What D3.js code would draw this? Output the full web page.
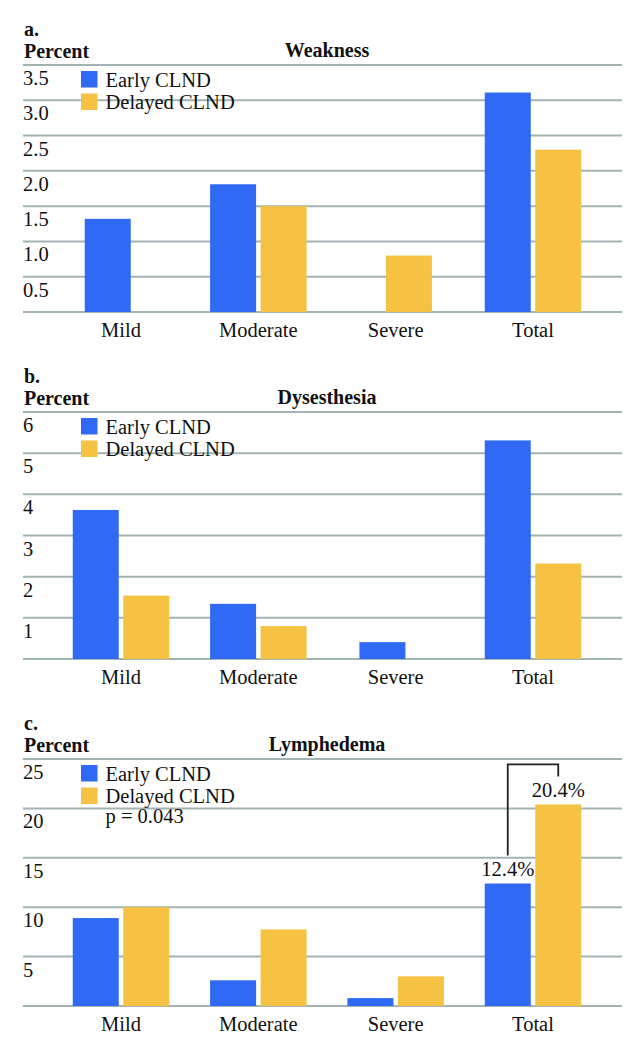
<!DOCTYPE html>
<html>
<head>
<meta charset="utf-8">
<script src="https://cdn.jsdelivr.net/npm/d3@7"></script>
<style>
  html, body { margin: 0; padding: 0; background: #fff; }
  svg { display: block; font-family: "Liberation Serif", "Times New Roman", serif; }
</style>
</head>
<body>
<svg id="chart" width="638" height="1050"></svg>
<script>
// ---- data ----
const categories = ["Mild", "Moderate", "Severe", "Total"];
const seriesNames = ["Early CLND", "Delayed CLND"];

const panelLetters = ["a.", "b.", "c."];
const panelTitles = ["Weakness", "Dysesthesia", "Lymphedema"];

// Weakness (percent), null = no bar
const weaknessEarly   = [1.32, 1.81, null, 3.11];
const weaknessDelayed = [null, 1.50, 0.80, 2.30];
const weaknessTicks   = [0.5, 1.0, 1.5, 2.0, 2.5, 3.0, 3.5];

// Dysesthesia (percent)
const dysEarly   = [3.62, 1.34, 0.41, 5.31];
const dysDelayed = [1.54, 0.80, null, 2.32];
const dysTicks   = [1, 2, 3, 4, 5, 6];

// Lymphedema (percent)
const lymEarly   = [8.9, 2.6, 0.8, 12.4];
const lymDelayed = [10.0, 7.75, 3.0, 20.4];
const lymTicks   = [5, 10, 15, 20, 25];
const lymPValue  = "p = 0.043";

const yMaxes = [3.5, 6, 25];
const tickFormats = [".1f", "d", "d"];

// ---- style ----
const colors = ["#3069f4", "#f5c243"];
const gridColor = "#a2b3b3";
const fontSize = 20.5;

const panels = [
  { early: weaknessEarly, delayed: weaknessDelayed, ticks: weaknessTicks },
  { early: dysEarly, delayed: dysDelayed, ticks: dysTicks },
  { early: lymEarly, delayed: lymDelayed, ticks: lymTicks, pval: lymPValue, annotateTotal: true }
];

const svg = d3.select("#chart");
const plotLeft = 23, plotRight = 622;
const panelTop0 = 65, panelStep = 347, panelHeight = 247;
const barW = 46, barGap = 4.5, loneShift = 12;

const x = d3.scalePoint().domain(categories).range([121, 533]);

panels.forEach((p, i) => {
  const top = panelTop0 + i * panelStep;
  const bottom = top + panelHeight;
  const g = svg.append("g");
  const y = d3.scaleLinear().domain([0, yMaxes[i]]).range([bottom, top]);

  // gridlines (including baseline)
  const gridVals = [0].concat(p.ticks);
  g.selectAll("line.grid").data(gridVals).join("line")
    .attr("class", "grid")
    .attr("x1", plotLeft).attr("x2", plotRight)
    .attr("y1", d => y(d)).attr("y2", d => y(d))
    .attr("stroke", gridColor).attr("stroke-width", 2);

  // tick labels (below each gridline)
  const fmt = d3.format(tickFormats[i]);
  g.selectAll("text.tick").data(p.ticks).join("text")
    .attr("class", "tick")
    .attr("x", plotLeft).attr("y", d => y(d) + 20)
    .attr("font-size", fontSize).attr("fill", "#111")
    .text(d => fmt(d));

  // panel letter, axis label, title
  g.append("text").attr("x", plotLeft + 1).attr("y", top - 29)
    .attr("font-size", 20).attr("font-weight", "bold").attr("fill", "#111")
    .text(panelLetters[i]);
  g.append("text").attr("x", plotLeft + 1).attr("y", top - 7)
    .attr("font-size", 20).attr("font-weight", "bold").attr("fill", "#111")
    .text("Percent");
  g.append("text").attr("x", 327).attr("y", top - 8.5)
    .attr("text-anchor", "middle")
    .attr("font-size", 20).attr("font-weight", "bold").attr("fill", "#111")
    .text(panelTitles[i]);

  // bars
  const bars = [];
  categories.forEach((c, ci) => {
    const vals = [p.early[ci], p.delayed[ci]];
    vals.forEach((v, si) => {
      if (v == null) return;
      const otherMissing = vals[1 - si] == null;
      let x0 = si === 0 ? x(c) - barGap / 2 - barW : x(c) + barGap / 2;
      if (otherMissing) x0 += si === 0 ? loneShift : -loneShift;
      bars.push({ c, si, v, x0 });
    });
  });
  g.selectAll("rect.bar").data(bars).join("rect")
    .attr("class", "bar")
    .attr("x", d => d.x0).attr("width", barW)
    .attr("y", d => y(d.v)).attr("height", d => y(0) - y(d.v))
    .attr("fill", d => colors[d.si]);

  // category labels
  g.selectAll("text.cat").data(categories).join("text")
    .attr("class", "cat")
    .attr("x", d => x(d)).attr("y", bottom + 25)
    .attr("text-anchor", "middle")
    .attr("font-size", fontSize).attr("fill", "#111")
    .text(d => d);

  // legend
  const leg = g.append("g");
  seriesNames.forEach((s, si) => {
    const ly = top + 6 + si * 22.5;
    leg.append("rect").attr("x", 81).attr("y", ly).attr("width", 16.5).attr("height", 16.5)
      .attr("fill", colors[si]);
    leg.append("text").attr("x", 105.5).attr("y", ly + 15.5)
      .attr("font-size", fontSize).attr("fill", "#111").text(s);
  });
  if (p.pval) {
    leg.append("text").attr("x", 105.5).attr("y", top + 6 + 2 * 22.5 + 13)
      .attr("font-size", fontSize).attr("fill", "#111").text(p.pval);
  }

  // total annotation with bracket
  if (p.annotateTotal) {
    const ti = categories.length - 1;
    const tc = categories[ti];
    const ann = [
      { v: p.early[ti], cx: x(tc) - barGap / 2 - barW / 2 },
      { v: p.delayed[ti], cx: x(tc) + barGap / 2 + barW / 2 }
    ];
    ann.forEach(a => { a.base = y(a.v) - 7; });
    g.selectAll("text.ann").data(ann).join("text")
      .attr("class", "ann")
      .attr("x", d => d.cx).attr("y", d => d.base)
      .attr("text-anchor", "middle")
      .attr("font-size", fontSize).attr("fill", "#111")
      .text(d => d3.format(".1f")(d.v) + "%");
    const topY = d3.min(ann, a => a.base) - 33;
    const path = d3.path();
    path.moveTo(ann[0].cx, ann[0].base - 21);
    path.lineTo(ann[0].cx, topY);
    path.lineTo(ann[1].cx, topY);
    path.lineTo(ann[1].cx, ann[1].base - 21);
    g.append("path").attr("d", path.toString())
      .attr("fill", "none").attr("stroke", "#222").attr("stroke-width", 1.8);
  }
});
</script>
</body>
</html>
